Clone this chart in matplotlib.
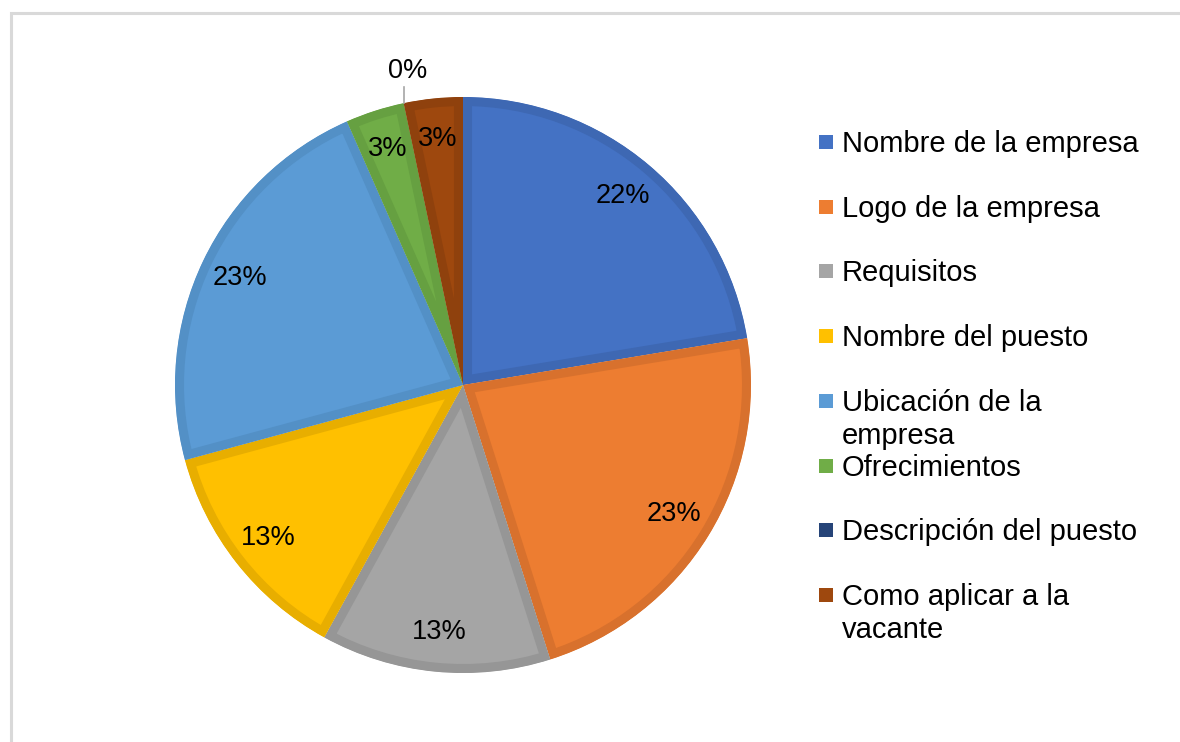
import numpy as np
import matplotlib.pyplot as plt
from matplotlib.patches import Rectangle

plt.rcParams['font.family'] = ['Liberation Sans', 'DejaVu Sans']

# Elementos que se consideran en un anuncio de vacante (%)
categorias = ["Nombre de la empresa", "Logo de la empresa", "Requisitos",
              "Nombre del puesto", "Ubicación de la\nempresa", "Ofrecimientos",
              "Descripción del puesto", "Como aplicar a la\nvacante"]
porcentajes = [22.4, 22.7, 12.9, 12.8, 22.6, 3.3, 0.0, 3.3]

relleno = ["#4472c4", "#ed7d31", "#a5a5a5", "#ffc000",
           "#5b9bd5", "#70ad47", "#264478", "#9e480e"]
borde = ["#3e68b3", "#d8712d", "#969696", "#e8ae00",
         "#5390c6", "#66a041", "#223e6d", "#8f410d"]

W, H = 1180, 742
fig = plt.figure(figsize=(W / 100, H / 100), dpi=100)

# marco gris del area del grafico
fig.patches.append(Rectangle((11 / W, -0.1), 1.2, (H - 13) / H + 0.1,
                             transform=fig.transFigure, fill=False,
                             edgecolor="#d9d9d9", linewidth=2.2))

cx, cy, r = 463, 385, 288
ax = fig.add_axes([(cx - r) / W, (H - cy - r) / H, 2 * r / W, 2 * r / H])

wedges, _, textos = ax.pie(porcentajes, colors=relleno, startangle=90,
                           counterclock=False, radius=1.0,
                           autopct='%.0f%%', pctdistance=0.86,
                           textprops=dict(fontsize=19.5, color="black"))

# borde interior mas oscuro en cada sector (recortado al propio sector)
for w, c in zip(wedges, borde):
    w.set_edgecolor(c)
    w.set_linewidth(13)
    w.set_clip_path(w)
    w.set_clip_on(True)

# etiqueta del sector vacio, fuera del circulo con linea guia
for w, t, v in zip(wedges, textos, porcentajes):
    if v == 0:
        ang = np.deg2rad(w.theta1)
        x0, y0 = np.cos(ang), np.sin(ang)
        ax.plot([x0, x0], [y0, y0 + 0.055], color="#a6a6a6", lw=1.2,
                clip_on=False)
        t.set_position((x0 + 0.015, y0 + 0.11))
        t.set_va("center")

ax.set_xlim(-1, 1)
ax.set_ylim(-1, 1)
ax.set_aspect("equal")
ax.axis("off")

# leyenda a la derecha
y0 = 152
paso = 64.7
for i, (nombre, c) in enumerate(zip(categorias, relleno)):
    yb = y0 + i * paso
    fig.patches.append(Rectangle((819 / W, (H - yb + 3) / H), 14 / W, 14 / H,
                                 transform=fig.transFigure, facecolor=c,
                                 edgecolor="none"))
    lineas = nombre.split("\n")
    for j, l in enumerate(lineas):
        fig.text(842 / W, (H - yb - j * 33) / H, l, fontsize=21,
                 va="baseline", ha="left", color="black")

fig.savefig("out.png", dpi=100, facecolor="white")
